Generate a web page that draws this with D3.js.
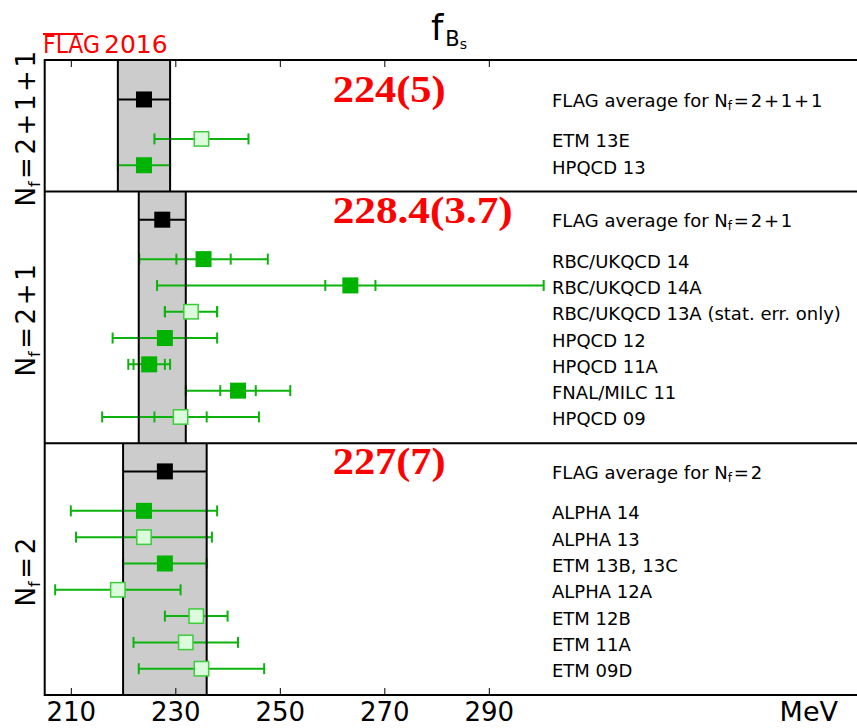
<!DOCTYPE html>
<html>
<head>
<meta charset="utf-8">
<script src="https://cdn.jsdelivr.net/npm/d3@7"></script>
<style>
  body { margin: 0; background: #fff; }
  svg { display: block; font-family: "DejaVu Sans", sans-serif; }
</style>
</head>
<body>
<svg id="fig" width="857" height="728"></svg>
<script>

// ---- data (MeV) ----
var groups      = ["2+1+1", "2+1", "2"];
var avgValue    = [224, 227.5, 228];
var avgError    = [5, 4.5, 8];
var avgText     = ["224(5)", "228.4(3.7)", "227(7)"];

var studyName   = ["ETM 13E", "HPQCD 13",
                   "RBC/UKQCD 14", "RBC/UKQCD 14A", "RBC/UKQCD 13A (stat. err. only)", "HPQCD 12",
                   "HPQCD 11A", "FNAL/MILC 11", "HPQCD 09",
                   "ALPHA 14", "ALPHA 13", "ETM 13B, 13C", "ALPHA 12A", "ETM 12B", "ETM 11A", "ETM 09D"];
var studyGroup  = [0, 0, 1, 1, 1, 1, 1, 1, 1, 2, 2, 2, 2, 2, 2, 2];
var studyValue  = [235, 224, 235.4, 263.5, 233, 228, 225, 242, 231, 224, 224, 228, 219, 234, 232, 235];
var studyStat   = [null, null, 5.2, 4.8, 5, null, 3, 3.4, 5, null, null, null, null, null, null, null];
var studyTotal  = [9, 5, 12.3, 37, 5, 10, 4, 10, 15, 14, 13, 8, 12, 6, 10, 12];
var studyFilled = [false, true, true, true, false, true, true, true, false, true, false, true, false, false, false, false];

var ticks = [210, 230, 250, 270, 290];

// ---- layout ----
var sectionUnits = [5, 9.57, 9.57];   // height of each block in row units
var totalUnits = d3.sum(sectionUnits);
var plotTop = 60, plotBottom = 695, plotLeft = 44.7;

var x = d3.scaleLinear().domain([205, 361]).range([plotLeft, 859.8]);
var y = d3.scaleLinear().domain([0, totalUnits]).range([plotBottom, plotTop]);

var green = "#0db30d", greenDark = "#00b300", openFill = "#dcfadc", openStroke = "#3dcc3d";
var hair = "\u200A";

function mathNf(s){
    // "2+1" -> "=2+1" with hair spaces, roughly like mathtext
    return hair + "=" + hair + s.split("+").join(hair + "+" + hair);
}

var svg = d3.select("#fig");

// section boundaries (unit coordinates, from the bottom)
var sectionBottom = [], acc = totalUnits;
for (var i = 0; i < groups.length; i++) {
    acc -= sectionUnits[i];
    sectionBottom.push(acc);
}

// row position of each study inside its block
var studyRow = [];
for (var g = 0; g < groups.length; g++) {
    var idx = d3.range(studyName.length).filter(function(k){ return studyGroup[k] == g; });
    idx.forEach(function(k, j){ studyRow[k] = sectionBottom[g] + (idx.length - j); });
}
var avgRow = groups.map(function(gname, g){
    var n = studyGroup.filter(function(v){ return v == g; }).length;
    return sectionBottom[g] + n + 1.5;
});

// grey bands
groups.forEach(function(gname, g){
    var y0 = y(sectionBottom[g] + sectionUnits[g]), y1 = y(sectionBottom[g]);
    var xa = x(avgValue[g] - avgError[g]), xb = x(avgValue[g] + avgError[g]);
    svg.append("rect").attr("x", xa).attr("y", y0).attr("width", xb - xa).attr("height", y1 - y0)
        .attr("fill", "#cccccc");
});

// study error bars
var bars = svg.append("g");
studyName.forEach(function(name, k){
    var yy = y(studyRow[k]), v = studyValue[k], t = studyTotal[k];
    bars.append("line").attr("x1", x(v - t)).attr("x2", x(v + t)).attr("y1", yy).attr("y2", yy)
        .attr("stroke", green).attr("stroke-width", 2);
    var caps = [v - t, v + t];
    if (studyStat[k] != null) caps.push(v - studyStat[k], v + studyStat[k]);
    caps.forEach(function(c){
        bars.append("line").attr("x1", x(c)).attr("x2", x(c)).attr("y1", yy - 5.5).attr("y2", yy + 5.5)
            .attr("stroke", green).attr("stroke-width", 2);
    });
});

// band edges
groups.forEach(function(gname, g){
    var y0 = y(sectionBottom[g] + sectionUnits[g]), y1 = y(sectionBottom[g]);
    [avgValue[g] - avgError[g], avgValue[g] + avgError[g]].forEach(function(e){
        svg.append("line").attr("x1", x(e)).attr("x2", x(e)).attr("y1", y0).attr("y2", y1)
            .attr("stroke", "#000").attr("stroke-width", 2);
    });
});

// study markers
studyName.forEach(function(name, k){
    var yy = y(studyRow[k]), xx = x(studyValue[k]);
    if (studyFilled[k]) {
        svg.append("rect").attr("x", xx - 8).attr("y", yy - 8).attr("width", 16).attr("height", 16)
            .attr("fill", greenDark);
    } else {
        svg.append("rect").attr("x", xx - 7.2).attr("y", yy - 7.2).attr("width", 14.4).attr("height", 14.4)
            .attr("fill", openFill).attr("stroke", openStroke).attr("stroke-width", 1.5);
    }
    svg.append("text").attr("x", 552).attr("y", yy + 8.5)
        .attr("font-size", 18).attr("fill", "#000").text(name);
});

// averages
groups.forEach(function(gname, g){
    var yy = y(avgRow[g]);
    svg.append("line").attr("x1", x(avgValue[g] - avgError[g])).attr("x2", x(avgValue[g] + avgError[g]))
        .attr("y1", yy).attr("y2", yy).attr("stroke", "#000").attr("stroke-width", 2);
    svg.append("rect").attr("x", x(avgValue[g]) - 8).attr("y", yy - 8).attr("width", 16).attr("height", 16)
        .attr("fill", "#000");

    var lab = svg.append("text").attr("x", 552).attr("y", yy + 7.3).attr("font-size", 18).attr("fill", "#000");
    lab.append("tspan").text("FLAG average for N");
    lab.append("tspan").attr("font-size", 12).attr("dy", 3).text("f");
    lab.append("tspan").attr("dy", -3).text(mathNf(gname));

    svg.append("text").attr("x", 332.7).attr("y", yy + 3)
        .attr("font-family", "'Liberation Serif', serif").attr("font-weight", "bold")
        .attr("font-size", 37).attr("fill", "#ff0000")
        .attr("textLength", avgText[g].length > 6 ? 180 : 113).attr("lengthAdjust", "spacingAndGlyphs")
        .text(avgText[g]);

    // rotated block label
    var cy = y(sectionBottom[g] + sectionUnits[g] / 2) + 3;
    var side = svg.append("text").attr("transform", "translate(35," + cy + ") rotate(-90)")
        .attr("text-anchor", "middle").attr("font-size", 26).attr("fill", "#000");
    side.append("tspan").text("N");
    side.append("tspan").attr("font-size", 16).attr("dy", 5).text("f");
    side.append("tspan").attr("dy", -5).text(mathNf(gname));
});

// frame and dividers
svg.append("rect").attr("x", plotLeft).attr("y", plotTop).attr("width", 900).attr("height", plotBottom - plotTop)
    .attr("fill", "none").attr("stroke", "#000").attr("stroke-width", 2);
sectionBottom.slice(0, -1).forEach(function(b){
    svg.append("line").attr("x1", plotLeft).attr("x2", 900).attr("y1", y(b)).attr("y2", y(b))
        .attr("stroke", "#000").attr("stroke-width", 2);
});

// axes
var bottomAxis = svg.append("g").attr("transform", "translate(0," + plotBottom + ")")
    .call(d3.axisBottom(x).tickValues(ticks).tickSize(-7).tickPadding(8).tickFormat(d3.format("d")));
bottomAxis.select(".domain").remove();
bottomAxis.selectAll("text").attr("font-size", 26).attr("font-family", "DejaVu Sans").attr("fill", "#000");
var topAxis = svg.append("g").attr("transform", "translate(0," + plotTop + ")")
    .call(d3.axisTop(x).tickValues(ticks).tickSize(-7).tickFormat(""));
topAxis.select(".domain").remove();

svg.append("text").attr("x", 838).attr("y", 721).attr("text-anchor", "end")
    .attr("font-size", 27).attr("fill", "#000").text("MeV");

// title
var title = svg.append("text").attr("x", 431).attr("y", 40).attr("font-size", 35).attr("fill", "#000");
title.append("tspan").text("f");
title.append("tspan").attr("font-size", 21).attr("dy", 6).attr("dx", 2).text("B");
title.append("tspan").attr("font-size", 14).attr("dy", 3).text("s");

// FLAG2016 logo
svg.append("text").attr("x", 43).attr("y", 53.3).attr("font-size", 25).attr("fill", "#ff0000")
    .attr("textLength", 57).attr("lengthAdjust", "spacingAndGlyphs").text("FLAG");
svg.append("text").attr("x", 104).attr("y", 53.3).attr("font-size", 25).attr("fill", "#ff0000").text("2016");
svg.append("line").attr("x1", 43).attr("x2", 83).attr("y1", 34).attr("y2", 34)
    .attr("stroke", "#ff0000").attr("stroke-width", 2);

</script>
</body>
</html>
